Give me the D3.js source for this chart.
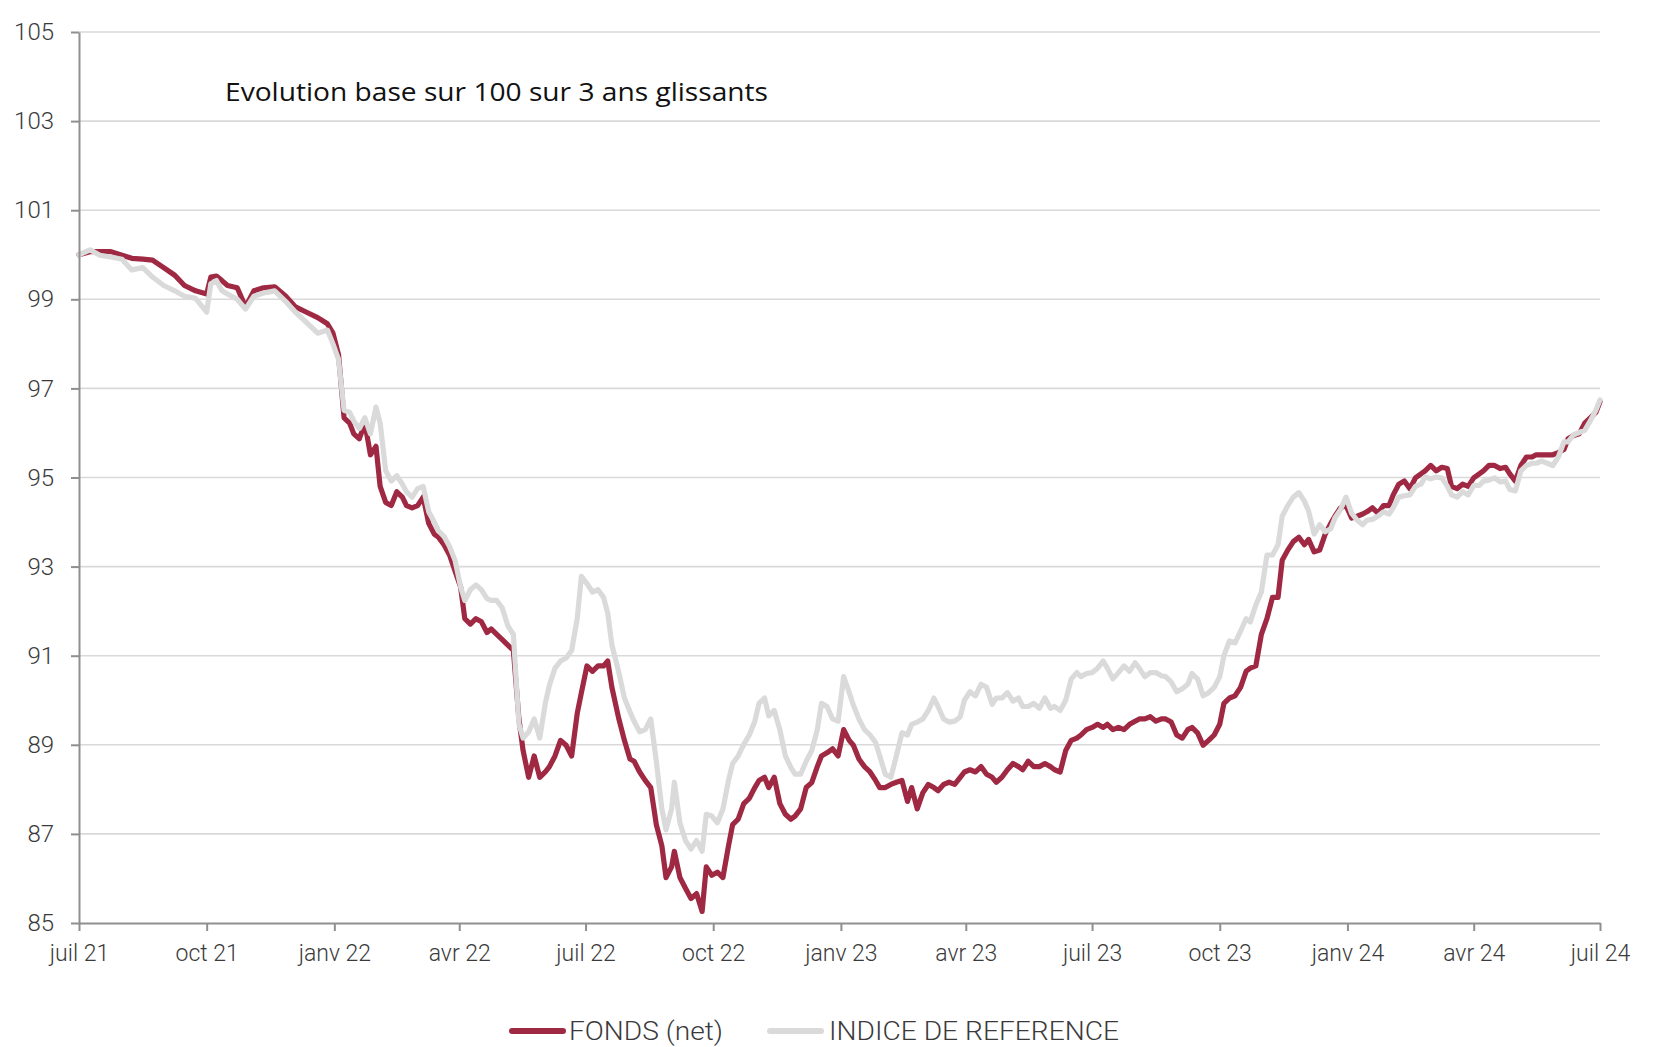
<!DOCTYPE html>
<html>
<head>
<meta charset="utf-8">
<script src="https://cdn.jsdelivr.net/npm/d3@7"></script>
<style>
  html, body { margin: 0; padding: 0; background: #ffffff; }
  svg { display: block; }
</style>
</head>
<body>
<svg id="chart" width="1659" height="1047"></svg>
<script>
// ---- DATA ----
const startDate = "2021-07-01";
const endDate = "2024-07-01";
const chartTitle = "Evolution base sur 100 sur 3 ans glissants";
const seriesNames = ["FONDS (net)", "INDICE DE REFERENCE"];

// days elapsed since 2021-07-01
const days = [0,8,15,23,31,38,46,53,61,69,
76,84,92,95,99,103,107,114,120,126,
133,141,149,156,164,172,179,183,187,191,
195,198,202,206,210,214,217,221,225,229,
233,236,240,244,248,252,256,259,263,267,
271,275,278,282,286,290,294,297,301,305,
309,313,317,320,324,328,332,336,339,343,
347,351,355,359,362,366,370,374,378,381,
384,389,393,397,400,404,408,412,416,420,
423,427,429,433,437,441,445,449,452,456,
460,464,468,471,475,479,483,487,490,494,
497,501,505,509,513,516,520,524,528,532,
535,539,543,547,551,555,558,562,566,570,
574,577,581,585,589,593,597,600,604,608,
612,616,619,623,627,631,635,638,642,646,
650,654,658,661,665,669,673,677,680,684,
688,692,696,700,703,707,711,715,719,722,
726,730,734,738,741,745,749,753,757,761,
764,768,772,776,780,783,787,791,795,799,
802,806,810,814,818,822,825,829,833,837,
841,844,848,852,856,860,864,867,871,875,
879,883,886,890,894,898,902,905,909,913,
917,921,925,928,932,936,940,944,947,951,
955,959,963,967,970,974,978,982,986,989,
993,997,1001,1005,1009,1012,1016,1020,1024,1028,
1031,1035,1039,1043,1047,1050,1054,1058,1062,1066,
1070,1073,1077,1081,1085,1089,1093,1096];

const fundValues = [100.00,100.07,100.07,100.07,99.99,99.92,99.90,99.88,99.71,99.54,
99.31,99.19,99.12,99.50,99.52,99.42,99.31,99.26,98.83,99.19,
99.26,99.28,99.07,98.83,98.71,98.59,98.45,98.24,97.76,96.34,
96.22,95.98,95.87,96.22,95.51,95.70,94.80,94.44,94.37,94.68,
94.56,94.37,94.32,94.37,94.56,93.97,93.73,93.66,93.49,93.26,
92.90,92.54,91.83,91.71,91.83,91.76,91.52,91.60,91.48,91.36,
91.24,91.12,89.58,88.87,88.27,88.75,88.27,88.39,88.51,88.75,
89.10,88.99,88.75,89.70,90.17,90.77,90.65,90.77,90.77,90.88,
90.29,89.58,89.10,88.68,88.63,88.39,88.20,88.04,87.21,86.73,
86.02,86.26,86.61,86.02,85.78,85.55,85.66,85.26,86.26,86.07,
86.14,86.02,86.73,87.21,87.33,87.68,87.80,88.04,88.20,88.27,
88.04,88.27,87.68,87.44,87.33,87.40,87.56,88.04,88.15,88.51,
88.75,88.82,88.91,88.75,89.34,89.10,88.99,88.68,88.51,88.39,
88.20,88.04,88.04,88.11,88.16,88.20,87.73,88.04,87.56,87.92,
88.11,88.04,87.97,88.11,88.16,88.11,88.27,88.39,88.44,88.39,
88.51,88.34,88.27,88.16,88.27,88.44,88.58,88.51,88.44,88.63,
88.51,88.51,88.58,88.51,88.44,88.39,88.87,89.10,89.15,89.22,
89.34,89.39,89.46,89.39,89.46,89.34,89.39,89.34,89.46,89.53,
89.58,89.58,89.63,89.53,89.58,89.58,89.51,89.22,89.15,89.34,
89.39,89.27,88.99,89.10,89.22,89.46,89.93,90.05,90.10,90.29,
90.65,90.72,90.77,91.48,91.83,92.31,92.31,93.14,93.37,93.56,
93.66,93.49,93.61,93.33,93.37,93.73,93.97,94.13,94.32,94.37,
94.09,94.13,94.18,94.23,94.32,94.20,94.37,94.37,94.61,94.85,
94.92,94.75,94.99,95.08,95.15,95.27,95.15,95.23,95.20,94.80,
94.75,94.85,94.80,94.99,95.08,95.15,95.27,95.27,95.20,95.23,
95.08,94.92,95.27,95.46,95.46,95.51,95.51,95.51,95.51,95.56,
95.63,95.87,95.94,95.98,96.22,96.34,96.46,96.70];

const indexValues = [100.00,100.11,99.99,99.95,99.90,99.66,99.71,99.50,99.31,99.19,
99.07,99.02,98.71,99.35,99.42,99.19,99.12,99.00,98.78,99.07,
99.14,99.19,98.95,98.71,98.48,98.24,98.31,98.00,97.65,96.51,
96.46,96.27,96.10,96.34,95.98,96.58,96.22,95.15,94.92,95.04,
94.85,94.68,94.56,94.75,94.80,94.23,94.00,93.80,93.68,93.45,
93.14,92.54,92.24,92.48,92.59,92.48,92.28,92.24,92.24,92.07,
91.67,91.48,89.46,89.15,89.29,89.58,89.15,89.93,90.34,90.72,
90.88,90.95,91.12,91.83,92.78,92.62,92.43,92.48,92.31,91.95,
91.24,90.62,90.05,89.74,89.53,89.29,89.34,89.58,88.63,87.56,
87.09,87.56,88.16,87.25,86.85,86.66,86.85,86.61,87.44,87.40,
87.25,87.56,88.20,88.58,88.75,89.01,89.22,89.53,89.93,90.05,
89.65,89.77,89.34,88.75,88.49,88.34,88.34,88.63,88.87,89.34,
89.93,89.86,89.58,89.53,90.53,90.17,89.89,89.58,89.34,89.22,
89.05,88.75,88.34,88.27,88.75,89.27,89.22,89.46,89.51,89.58,
89.77,90.05,89.86,89.58,89.51,89.53,89.63,90.00,90.19,90.10,
90.36,90.29,89.91,90.05,90.05,90.17,89.98,90.05,89.86,89.86,
89.93,89.82,90.05,89.82,89.86,89.77,90.00,90.48,90.62,90.53,
90.60,90.62,90.72,90.88,90.72,90.48,90.62,90.77,90.65,90.84,
90.72,90.53,90.62,90.62,90.55,90.53,90.41,90.19,90.26,90.36,
90.60,90.48,90.10,90.17,90.29,90.53,91.00,91.33,91.29,91.55,
91.83,91.76,92.14,92.43,93.26,93.26,93.49,94.13,94.37,94.56,
94.66,94.47,94.25,93.73,93.94,93.78,93.85,94.09,94.28,94.56,
94.20,94.04,93.94,94.04,94.06,94.13,94.23,94.18,94.32,94.56,
94.59,94.61,94.80,94.85,95.01,94.97,95.01,94.99,94.80,94.61,
94.56,94.68,94.61,94.82,94.82,94.92,94.94,94.99,94.90,94.92,
94.73,94.70,95.15,95.27,95.32,95.32,95.37,95.32,95.27,95.46,
95.80,95.80,95.96,96.01,96.06,96.27,96.51,96.74];

const xTickDates = ["2021-07-01","2021-10-01","2022-01-01","2022-04-01","2022-07-01","2022-10-01",
  "2023-01-01","2023-04-01","2023-07-01","2023-10-01","2024-01-01","2024-04-01","2024-07-01"];
const xTickLabels = ["juil 21","oct 21","janv 22","avr 22","juil 22","oct 22",
  "janv 23","avr 23","juil 23","oct 23","janv 24","avr 24","juil 24"];
const yTicks = [85,87,89,91,93,95,97,99,101,103,105];

// ---- CHART ----
const W = 1659, H = 1047;
const margin = {left: 79, right: 59, top: 32, bottom: 124};
const svg = d3.select("#chart");
const parse = d3.utcParse("%Y-%m-%d");
const t0 = parse(startDate);
const dates = days.map(d => d3.utcDay.offset(t0, d));

const x = d3.scaleUtc()
  .domain([parse(startDate), parse(endDate)])
  .range([margin.left, W - margin.right]);
const y = d3.scaleLinear()
  .domain([85, 105])
  .range([H - margin.bottom, margin.top]);

const textColor = "#3a3a3a";
const axisColor = "#8f8f8f";
const gridColor = "#d9d9d9";
const fundColor = "#9f2842";
const indexColor = "#dadada";

// gridlines
svg.append("g").selectAll("line")
  .data(yTicks.filter(v => v !== 85))
  .join("line")
  .attr("x1", margin.left).attr("x2", W - margin.right)
  .attr("y1", d => y(d)).attr("y2", d => y(d))
  .attr("stroke", gridColor).attr("stroke-width", 1.6);

// Title
svg.append("text")
  .attr("x", 225).attr("y", 101)
  .attr("font-family", "'Open Sans', sans-serif")
  .attr("font-size", 25)
  .attr("textLength", 543).attr("lengthAdjust", "spacingAndGlyphs")
  .attr("fill", "#111")
  .text(chartTitle);

// series
const line = d3.line()
  .x((d, i) => x(dates[i]))
  .y(d => y(d))
  .curve(d3.curveLinear);

svg.append("path")
  .datum(fundValues)
  .attr("d", line)
  .attr("fill", "none")
  .attr("stroke", fundColor)
  .attr("stroke-width", 5.2)
  .attr("stroke-linejoin", "round")
  .attr("stroke-linecap", "round");

svg.append("path")
  .datum(indexValues)
  .attr("d", line)
  .attr("fill", "none")
  .attr("stroke", indexColor)
  .attr("stroke-width", 5.2)
  .attr("stroke-linejoin", "round")
  .attr("stroke-linecap", "round");

// Y axis
const yAxis = svg.append("g")
  .attr("transform", `translate(${margin.left},0)`)
  .call(d3.axisLeft(y).tickValues(yTicks).tickFormat(d3.format("d"))
    .tickSize(8).tickSizeOuter(0).tickPadding(17));
yAxis.select(".domain").attr("stroke", axisColor).attr("stroke-width", 2);
yAxis.selectAll(".tick line").attr("stroke", axisColor).attr("stroke-width", 2);
yAxis.selectAll(".tick text")
  .attr("font-family", "Roboto, sans-serif").attr("font-weight", 300)
  .attr("font-size", 24).attr("fill", textColor);

// X axis
const xAxis = svg.append("g")
  .attr("transform", `translate(0,${H - margin.bottom})`)
  .call(d3.axisBottom(x).tickValues(xTickDates.map(parse))
    .tickFormat((d, i) => xTickLabels[i])
    .tickSize(8).tickSizeOuter(0).tickPadding(14));
xAxis.select(".domain").attr("stroke", axisColor).attr("stroke-width", 2);
xAxis.selectAll(".tick line").attr("stroke", axisColor).attr("stroke-width", 2);
xAxis.selectAll(".tick text")
  .attr("font-family", "Roboto, sans-serif").attr("font-weight", 300)
  .attr("font-size", 23).attr("fill", textColor);

// Legend
const legendY = 1031;
const legendItems = [
  {name: seriesNames[0], color: fundColor, x1: 512, x2: 563, tx: 569, tl: 154},
  {name: seriesNames[1], color: indexColor, x1: 770, x2: 821, tx: 829, tl: 290}
];
const lg = svg.append("g");
legendItems.forEach(it => {
  lg.append("line")
    .attr("x1", it.x1).attr("x2", it.x2)
    .attr("y1", legendY).attr("y2", legendY)
    .attr("stroke", it.color).attr("stroke-width", 6)
    .attr("stroke-linecap", "round");
  lg.append("text")
    .attr("x", it.tx).attr("y", legendY)
    .attr("dominant-baseline", "central")
    .attr("font-family", "Roboto, sans-serif").attr("font-weight", 300)
    .attr("font-size", 26)
    .attr("textLength", it.tl).attr("lengthAdjust", "spacingAndGlyphs")
    .attr("fill", textColor)
    .text(it.name);
});
</script>
</body>
</html>
